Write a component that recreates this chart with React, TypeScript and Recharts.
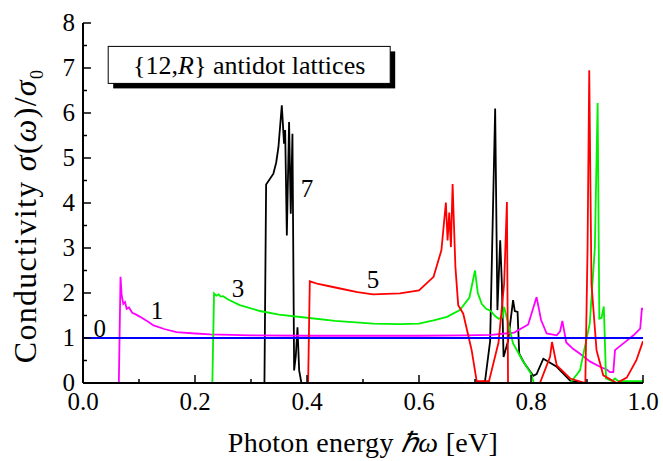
import React from 'react';
import { LineChart, Line, XAxis, YAxis, ReferenceDot } from 'recharts';

// photon energy [eV] and sigma/sigma0 for each antidot lattice {12,R}
const energy0 = [0, 1];
const sigma0 = [1, 1];

const energy1 = [0, 0.064, 0.067, 0.069, 0.072, 0.075, 0.078, 0.082, 0.088, 0.095, 0.102, 0.115, 0.126, 0.145, 0.167, 0.2, 0.227, 0.3, 0.4, 0.5, 0.6, 0.68, 0.73, 0.77, 0.795, 0.81, 0.818, 0.828, 0.846, 0.852, 0.856, 0.863, 0.875, 0.8875, 0.905, 0.923, 0.935, 0.941, 0.947, 0.95, 0.965, 0.983, 0.995, 0.998, 1.0];
const sigma1 = [0, 0, 2.36, 1.95, 1.76, 1.8, 1.65, 1.68, 1.56, 1.52, 1.47, 1.37, 1.28, 1.2, 1.13, 1.1, 1.08, 1.06, 1.05, 1.05, 1.05, 1.06, 1.07, 1.12, 1.3, 1.91, 1.4, 1.1, 1.06, 1.15, 1.38, 0.9, 0.76, 0.65, 0.48, 0.36, 0.3, 0.24, 0.24, 0.73, 0.88, 1.06, 1.21, 1.65, 1.65];

const energy3 = [0, 0.231, 0.234, 0.238, 0.242, 0.246, 0.25, 0.26, 0.28, 0.316, 0.35, 0.4, 0.45, 0.518, 0.566, 0.6, 0.626, 0.65, 0.673, 0.69, 0.7, 0.705, 0.712, 0.72, 0.728, 0.735, 0.742, 0.748, 0.752, 0.768, 0.785, 0.8, 0.805, 0.87, 0.8875, 0.905, 0.914, 0.919, 0.922, 0.926, 0.93, 0.934, 0.945, 0.95, 0.956, 1.0];
const sigma3 = [0, 0, 1.99, 1.94, 1.97, 1.92, 1.93, 1.85, 1.73, 1.6, 1.52, 1.45, 1.38, 1.32, 1.31, 1.32, 1.39, 1.47, 1.62, 1.9, 2.5, 2.0, 1.76, 1.65, 1.6, 1.5, 1.43, 1.45, 1.69, 0.88, 0.5, 0.21, 0, 0, 0.28, 1.33, 3.0, 6.22, 1.43, 1.45, 1.7, 0.1, 0.04, 0.1, 0.04, 0.04];

const energy5 = [0, 0.402, 0.405, 0.42, 0.44, 0.459, 0.49, 0.518, 0.566, 0.6, 0.626, 0.64, 0.648, 0.651, 0.654, 0.657, 0.66, 0.665, 0.67, 0.679, 0.694, 0.703, 0.725, 0.742, 0.752, 0.757, 0.759, 0.816, 0.834, 0.8375, 0.846, 0.87, 0.897, 0.901, 0.904, 0.908, 0.917, 0.929, 0.953, 0.971, 0.988, 1.0];
const sigma5 = [0, 0, 2.26, 2.2, 2.15, 2.1, 2.02, 1.97, 1.99, 2.06, 2.36, 2.95, 4.01, 3.17, 3.79, 3.02, 4.42, 2.58, 1.73, 1.54, 0.73, 0.04, 0.04, 0.9, 2.2, 4.02, 0, 0, 0.58, 0.91, 0.39, 0.1, 0, 3.0, 6.95, 2.2, 0.73, 0.17, 0, 0.12, 0.5, 0.93];

const energy7 = [0, 0.324, 0.327, 0.34, 0.345, 0.349, 0.355, 0.359, 0.361, 0.364, 0.368, 0.371, 0.374, 0.377, 0.38, 0.383, 0.386, 0.39, 0.71, 0.718, 0.727, 0.736, 0.74, 0.745, 0.748, 0.751, 0.759, 0.768, 0.771, 0.776, 0.779, 0.7875, 0.804, 0.81, 0.822, 0.846, 0.87, 0.89, 1.0];
const sigma7 = [0, 0, 4.41, 4.65, 4.9, 5.24, 6.17, 5.32, 5.62, 3.28, 5.8, 3.76, 5.54, 0.28, 0.6, 1.24, 0.28, 0, 0, 0.05, 0.93, 6.1, 1.62, 3.17, 2.2, 0.58, 0.93, 1.84, 1.6, 1.58, 0.65, 0.45, 0.16, 0.2, 0.54, 0.36, 0.05, 0, 0];

// curve labels (R values) placed next to each curve
const labelText = ['0', '1', '3', '5', '7'];
const labelX = [0.03, 0.132, 0.277, 0.518, 0.4];
const labelY = [1.21, 1.62, 2.1, 2.3, 4.32];

const xTicks = [0, 0.1, 0.2, 0.3, 0.4, 0.5, 0.6, 0.7, 0.8, 0.9, 1.0];
const yTicks = [0, 0.5, 1, 1.5, 2, 2.5, 3, 3.5, 4, 4.5, 5, 5.5, 6, 6.5, 7, 7.5, 8];

const FONT = '"Liberation Serif", serif';

const toPoints = (xs: number[], ys: number[]) => xs.map((x, i) => ({ x, y: ys[i] }));

const series = [
  { name: '7', data: toPoints(energy7, sigma7), color: '#000000' },
  { name: '1', data: toPoints(energy1, sigma1), color: '#ff00ff' },
  { name: '3', data: toPoints(energy3, sigma3), color: '#00f000' },
  { name: '5', data: toPoints(energy5, sigma5), color: '#ff0000' },
  { name: '0', data: toPoints(energy0, sigma0), color: '#0000ff' },
];

const isMajorX = (v: number) => Math.round(v * 10) % 2 === 0;
const isMajorY = (v: number) => Number.isInteger(v);

// inward ticks, labels only on major ones
const makeXTick = (side: 'bottom' | 'top') => (props: any) => {
  const { x, y, payload } = props;
  const major = isMajorX(payload.value);
  const len = major ? 8 : 4;
  const dir = side === 'bottom' ? -1 : 1;
  return (
    <g>
      <line x1={x} x2={x} y1={y} y2={y + dir * len} stroke="#000" strokeWidth={1.5} />
      {side === 'bottom' && major && (
        <text x={x} y={y + 27} textAnchor="middle" fontFamily={FONT} fontSize={25} fill="#000">
          {payload.value.toFixed(1)}
        </text>
      )}
    </g>
  );
};

const makeYTick = (side: 'left' | 'right') => (props: any) => {
  const { x, y, payload } = props;
  const major = isMajorY(payload.value);
  const len = major ? 8 : 4;
  const dir = side === 'left' ? 1 : -1;
  return (
    <g>
      <line x1={x} x2={x + dir * len} y1={y} y2={y} stroke="#000" strokeWidth={1.5} />
      {side === 'left' && major && (
        <text x={x - 8} y={y} dy="0.33em" textAnchor="end" fontFamily={FONT} fontSize={25} fill="#000">
          {payload.value}
        </text>
      )}
    </g>
  );
};

const XLabel = (props: any) => {
  const { x, y, width } = props.viewBox;
  return (
    <text
      x={x + width / 2}
      y={y + 69}
      textAnchor="middle"
      fontFamily={FONT}
      fontSize={28}
      letterSpacing={0.3}
      fill="#000"
    >
      Photon energy <tspan fontStyle="italic">ℏω</tspan> [eV]
    </text>
  );
};

const YLabel = (props: any) => {
  const { y, height } = props.viewBox;
  const cx = 36;
  const cy = y + height / 2 + 13;
  return (
    <text
      x={cx}
      y={cy}
      transform={`rotate(-90 ${cx} ${cy})`}
      textAnchor="middle"
      fontFamily={FONT}
      fontSize={32}
      letterSpacing={1.3}
      fill="#000"
    >
      Conductivity <tspan fontStyle="italic">σ</tspan>(<tspan fontStyle="italic">ω</tspan>)/<tspan fontStyle="italic">σ</tspan>
      <tspan fontSize={18} dy={7}>0</tspan>
    </text>
  );
};

const CurveLabel = (text: string) => (props: any) => (
  <text x={props.cx} y={props.cy} dy="0.35em" textAnchor="middle" fontFamily={FONT} fontSize={25} fill="#000">
    {text}
  </text>
);

const TitleBox = (props: any) => {
  const { cx, cy } = props;
  const w = 282;
  const h = 37;
  return (
    <g>
      <rect x={cx + 5} y={cy + 5} width={w} height={h} fill="#000" />
      <rect x={cx} y={cy} width={w} height={h} fill="#fff" stroke="#000" strokeWidth={1} />
      <text x={cx + w / 2} y={cy + 28} textAnchor="middle" fontFamily={FONT} fontSize={26} fill="#000">
        {'{12,'}
        <tspan fontStyle="italic">R</tspan>
        {'} antidot lattices'}
      </text>
    </g>
  );
};

export default function App() {
  return (
    <div style={{ position: 'absolute', left: 0, top: 0, background: '#fff' }}>
      <LineChart width={663} height={461} margin={{ top: 23, right: 20, bottom: 0, left: 0 }}>
        <XAxis
          type="number"
          dataKey="x"
          domain={[0, 1]}
          ticks={xTicks}
          interval={0}
          height={78}
          tickSize={0}
          tickMargin={0}
          tickLine={false}
          tick={makeXTick('bottom')}
          axisLine={{ stroke: '#000', strokeWidth: 2 }}
          allowDataOverflow
          label={<XLabel />}
        />
        <XAxis
          xAxisId="top"
          orientation="top"
          type="number"
          dataKey="x"
          domain={[0, 1]}
          ticks={xTicks}
          interval={0}
          height={0}
          tickSize={0}
          tickMargin={0}
          tickLine={false}
          tick={makeXTick('top')}
          axisLine={{ stroke: '#000', strokeWidth: 2 }}
          allowDataOverflow
        />
        <YAxis
          type="number"
          domain={[0, 8]}
          ticks={yTicks}
          interval={0}
          width={83}
          tickSize={0}
          tickMargin={0}
          tickLine={false}
          tick={makeYTick('left')}
          axisLine={{ stroke: '#000', strokeWidth: 2 }}
          allowDataOverflow
          label={<YLabel />}
        />
        <YAxis
          yAxisId="right"
          orientation="right"
          type="number"
          domain={[0, 8]}
          ticks={yTicks}
          interval={0}
          width={0}
          tickSize={0}
          tickMargin={0}
          tickLine={false}
          tick={makeYTick('right')}
          axisLine={{ stroke: '#000', strokeWidth: 2 }}
          allowDataOverflow
        />
        {series.map((s) => (
          <Line
            key={s.name}
            data={s.data}
            dataKey="y"
            type="linear"
            stroke={s.color}
            strokeWidth={1.8}
            dot={false}
            isAnimationActive={false}
          />
        ))}
        {labelText.map((t, i) => (
          <ReferenceDot key={t} x={labelX[i]} y={labelY[i]} r={0} shape={CurveLabel(t)} />
        ))}
        <ReferenceDot x={0.045} y={7.48} r={0} shape={TitleBox} />
      </LineChart>
    </div>
  );
}
